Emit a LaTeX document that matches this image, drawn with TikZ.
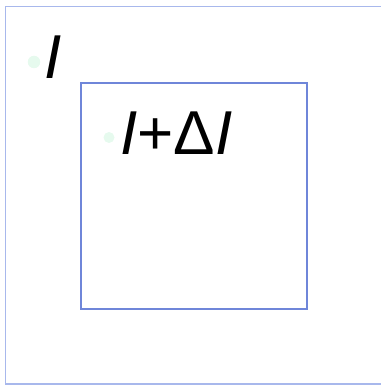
\documentclass[tikz,border=0pt]{standalone}
\usepackage{fontspec}
\setmainfont{Liberation Sans}
\usetikzlibrary{positioning}
\definecolor{OuterBlue}{HTML}{A8B8EC}
\definecolor{InnerBlue}{HTML}{6F86D9}
\definecolor{DotMint}{HTML}{E6FAEE}
\tikzset{
  outerframe/.style={draw=OuterBlue,line width=1.3pt},
  innerframe/.style={draw=InnerBlue,line width=1.6pt},
  dot/.style={circle,fill=DotMint,inner sep=0pt},
  biglabel/.style={font=\fontsize{62}{62}\selectfont,inner sep=0pt,anchor=base west}
}
\begin{document}
\begin{tikzpicture}[x=1pt,y=-1pt]
  \useasboundingbox (0,0) rectangle (380,385);
  % frames
  \draw[outerframe] (390,6.5) -- (5.5,6.5) -- (5.5,384) -- (390,384);
  \draw[innerframe] (81,83) rectangle (307,309);
  % outer label
  \node[dot,minimum size=12.5pt] (dotA) at (34,62) {};
  \node[biglabel] (labA) at (44,79) {\itshape I};
  % inner label
  \node[dot,minimum size=11pt] (dotB) at (109,137.5) {};
  \node[biglabel] (labB) at (120,154) {\itshape I\upshape+Δ\itshape I};
\end{tikzpicture}
\end{document}
